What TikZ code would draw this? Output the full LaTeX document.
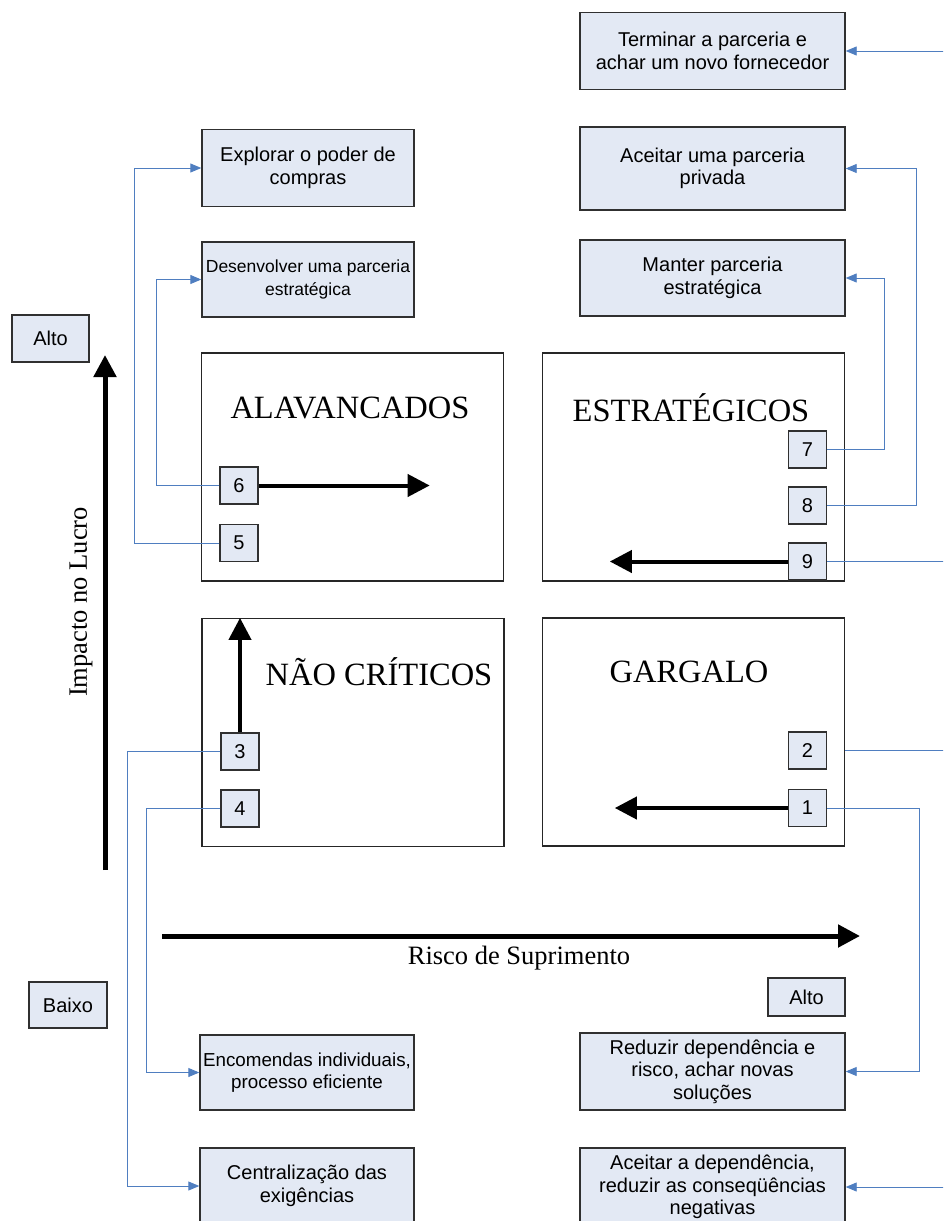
\documentclass[tikz,border=0pt]{standalone}
\usepackage{fontspec}
\setmainfont{Liberation Serif}
\setsansfont{Liberation Sans}
\usepackage{tikz}
\usetikzlibrary{arrows.meta}
\definecolor{boxfill}{HTML}{E3E9F4}
\definecolor{boxline}{HTML}{303030}
\definecolor{linkblue}{HTML}{4F7EC0}

\begin{document}
\begin{tikzpicture}[x=1pt,y=-1pt,semithick]
	\tikzstyle{box}=[draw=boxline,fill=boxfill,line width=1.4pt,align=center,inner sep=1pt,font=\sffamily\fontsize{20}{22.5}\selectfont]
	\tikzstyle{nbox}=[box,minimum width=38pt,minimum height=37pt]
	\tikzstyle{quad}=[draw=black!85,line width=1.3pt,minimum width=302pt,minimum height=228pt]
	\tikzstyle{qlabel}=[font=\rmfamily\fontsize{32.5}{34}\selectfont]
	\tikzstyle{axlabel}=[font=\rmfamily\fontsize{26.5}{28}\selectfont]
	\tikzstyle{link}=[draw=linkblue,line width=0.9pt,-{Triangle[length=11pt,width=9pt]}]
	\tikzstyle{axis}=[line width=5pt,-{Triangle[length=22pt,width=22pt]}]
	\tikzstyle{move}=[line width=4pt,-{Triangle[length=22pt,width=22pt]}]

	\useasboundingbox (0,0) rectangle (943,1221);
	\clip (0,0) rectangle (943,1221);

	% quadrants
	\node[quad] (alav) at (352.5,467) {};
	\node[quad] (estr) at (693.5,467) {};
	\node[quad] (naoc) at (353,732.5) {};
	\node[quad] (garg) at (693.5,732) {};
	\node[qlabel] (alavtxt) at (350,408) {ALAVANCADOS};
	\node[qlabel] (estrtxt) at (691,408) {ESTRATÉGICOS};
	\node[qlabel] (naoctxt) at (379,672) {NÃO CRÍTICOS};
	\node[qlabel] (gargtxt) at (689,672) {GARGALO};

	% actions
	\node[box,minimum width=265pt,minimum height=77pt] (term) at (712.5,51)     {Terminar a parceria e\\achar um novo fornecedor};
	\node[box,minimum width=212pt,minimum height=77pt] (expl) at (308,168)      {Explorar o poder de\\compras};
	\node[box,minimum width=265pt,minimum height=83pt] (acei) at (712.5,168.5)  {Aceitar uma parceria\\privada};
	\node[box,minimum width=212pt,minimum height=75pt,font=\sffamily\fontsize{17.5}{22.5}\selectfont] (desv) at (308,279.5) {Desenvolver uma parceria\\estratégica};
	\node[box,minimum width=265pt,minimum height=76pt] (mant) at (712.5,278)    {Manter parceria\\estratégica};
	\node[box,minimum width=214pt,minimum height=75pt,font=\sffamily\fontsize{18.8}{22.5}\selectfont] (enco) at (307,1072.5) {Encomendas individuais,\\processo eficiente};
	\node[box,minimum width=214pt,minimum height=76pt] (cent) at (307,1186)     {Centralização das\\exigências};
	\node[box,minimum width=265pt,minimum height=77pt] (redu) at (712.5,1071.5) {Reduzir dependência e\\risco, achar novas\\soluções};
	\node[box,minimum width=265pt,minimum height=78pt] (aced) at (712.5,1187)   {Aceitar a dependência,\\reduzir as conseqüências\\negativas};

	% axes
	\node[box,minimum width=77pt,minimum height=47pt] (alto1) at (50.5,338.5) {Alto};
	\node[box,minimum width=78pt,minimum height=46pt] (baixo) at (68,1005)    {Baixo};
	\node[box,minimum width=77pt,minimum height=38pt] (alto2) at (806.5,997)  {Alto};
	\coordinate (ylow)  at (105,870);
	\coordinate (yhigh) at (105,355);
	\coordinate (xlow)  at (162,936);
	\coordinate (xhigh) at (860,936);
	\draw[axis] (ylow) -- (yhigh);
	\draw[axis] (xlow) -- (xhigh);
	\node[axlabel,rotate=90] (ytxt) at (81,602) {Impacto no Lucro};
	\node[axlabel] (xtxt) at (519,958) {Risco de Suprimento};

	% links
	\node[nbox] (6) at (239,485.5) {6};
	\node[nbox] (5) at (239,543)   {5};
	\node[nbox] (3) at (240,751.5) {3};
	\node[nbox] (4) at (240,808.5) {4};
	\node[nbox] (7) at (807.5,449.5) {7};
	\node[nbox] (8) at (807.5,505.5) {8};
	\node[nbox] (9) at (807.5,561.5) {9};
	\node[nbox] (2) at (807.5,750.5) {2};
	\node[nbox] (1) at (807.5,808)   {1};

	\draw[move] (6.east) -- ++(171,0);
	\draw[move] (3.north) -- (3.north |- naoc.north);
	\draw[move] (9.west) -- ++(-178,0);
	\draw[move] (1.west) -- ++(-173,0);

	\draw[link] (5.west) -- ++(-85,0) |- (expl.west);
	\draw[link] (6.west) -- ++(-63,0) |- (desv.west);
	\draw[link] (7.east) -- ++(57,0) |- (mant.east);
	\draw[link] (8.east) -- ++(89,0) |- (acei.east);
	\draw[link] (9.east) -- ++(134,0) |- (term.east);
	\draw[link] (garg.east |- 2) -- ++(115,0) |- (aced.east);
	\draw[link] (1.east) -- ++(92,0) |- (redu.east);
	\draw[link] (3.west) -- ++(-93,0) |- (cent.west);
	\draw[link] (4.west) -- ++(-74,0) |- (enco.west);
\end{tikzpicture}
\end{document}
